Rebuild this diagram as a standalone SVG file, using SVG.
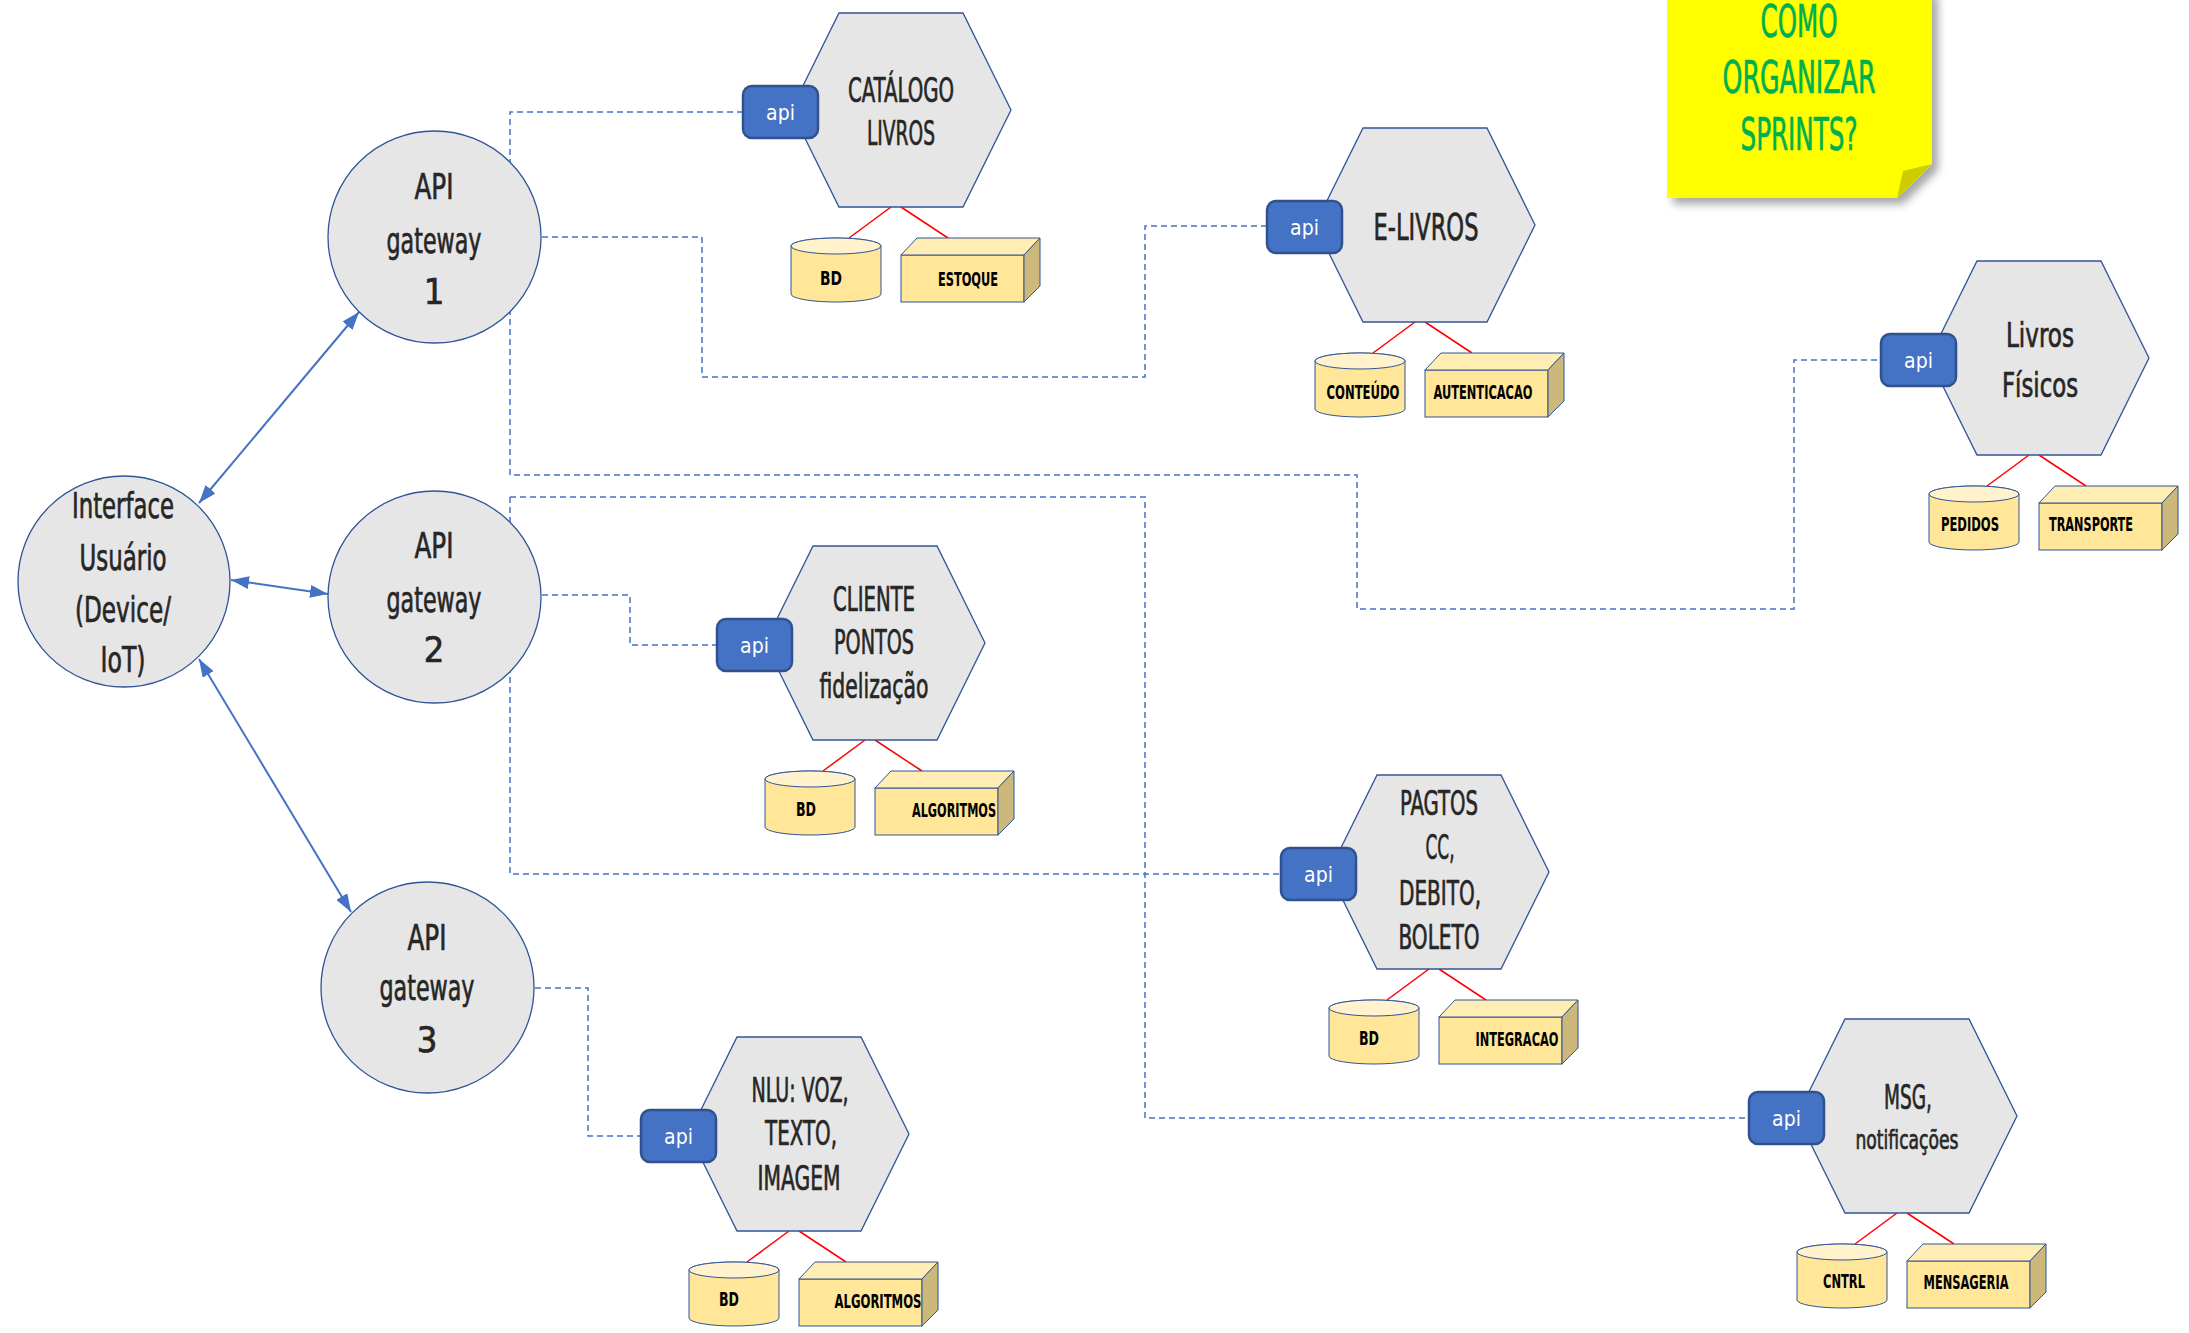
<svg xmlns="http://www.w3.org/2000/svg" xmlns:xlink="http://www.w3.org/1999/xlink" width="2189" height="1333" viewBox="0 0 2189 1333">
<defs>
<style>
.bg{fill:#FFFFFF}
.hex{fill:#E7E6E6;stroke:#2F5597;stroke-width:1.3}
.gw{fill:#E7E6E6;stroke:#2F5597;stroke-width:1.3}
.t{font-family:"Liberation Sans Narrow","DejaVu Sans Condensed","Liberation Sans",sans-serif;fill:#262626;stroke:#262626;stroke-width:0.7;text-anchor:middle}
.tg{font-size:36px}
.th{font-size:34px}
.ts{font-size:27px}
.apir{fill:#4472C4;stroke:#2F528F;stroke-width:2.5}
.apit{font-family:"Liberation Sans Narrow","DejaVu Sans Condensed","Liberation Sans",sans-serif;fill:#FFFFFF;font-size:21px;text-anchor:middle}
.lbl{font-family:"Liberation Sans Narrow","DejaVu Sans Condensed","Liberation Sans",sans-serif;font-weight:bold;font-size:20px;fill:#000000;text-anchor:middle}
.rl{stroke:#FF0000;stroke-width:1.5;fill:none}
.cyl{fill:#FFE699;stroke:#2F5597;stroke-width:1}
.cylt{fill:#FFF2CC;stroke:#2F5597;stroke-width:1}
.cf{fill:#FFE699;stroke:#2F5597;stroke-width:1}
.ctop{fill:#FFEDB3;stroke:#2F5597;stroke-width:1}
.cside{fill:#CCB87A;stroke:#2F5597;stroke-width:1}
.dash{fill:none;stroke:#4472C4;stroke-width:1.5;stroke-dasharray:6 4}
.arr{fill:none;stroke:#4472C4;stroke-width:2;marker-start:url(#ah);marker-end:url(#ah)}
.note{fill:#FFFF00}
.fold{fill:#CCCC00}
.nt{font-family:"Liberation Sans Narrow","DejaVu Sans Condensed","Liberation Sans",sans-serif;fill:#00B050;stroke:#00B050;stroke-width:0.7;font-size:44px;text-anchor:middle}
</style>
<marker id="ah" viewBox="0 0 18 13" refX="18" refY="6.5" markerWidth="18" markerHeight="13" markerUnits="userSpaceOnUse" orient="auto-start-reverse">
<path d="M0,0 L18,6.5 L0,13 z" fill="#4472C4"/>
</marker>
<filter id="sh" x="-10%" y="-10%" width="130%" height="130%">
<feDropShadow dx="6" dy="6" stdDeviation="4" flood-color="#000000" flood-opacity="0.35"/>
</filter>
<polygon id="hexshape" class="hex" points="-110,0 -62,-97 62,-97 110,0 62,97 -62,97"/>
<g id="apibox">
<rect class="apir" x="-158" y="-24" width="75" height="52" rx="9"/>
<text class="apit" x="-120.5" y="10">api</text>
</g>
<g id="storage">
<line class="rl" x1="-10" y1="97" x2="-52" y2="128"/>
<line class="rl" x1="0" y1="97" x2="47" y2="128"/>
<path class="cyl" d="M-110,136 A45,8 0 0 1 -20,136 V184 A45,8 0 0 1 -110,184 Z"/>
<ellipse class="cylt" cx="-65" cy="136" rx="45" ry="8"/>
<rect class="cf" x="0" y="145" width="123" height="47"/>
<polygon class="ctop" points="0,145 16,128 139,128 123,145"/>
<polygon class="cside" points="123,145 139,128 139,176 123,192"/>
</g>
</defs>

<rect class="bg" x="0" y="0" width="2189" height="1333"/>

<g id="connectors">
<path class="dash" d="M743,112 H510 V475 H1357 V609 H1794 V360 H1882"/>
<path class="dash" d="M542,237 H702 V377 H1145 V226 H1267"/>
<path class="dash" d="M510,497 H1145 V1118 H1748"/>
<path class="dash" d="M510,497 V874 H1281"/>
<path class="dash" d="M542,595 H630 V645 H717"/>
<path class="dash" d="M535,988 H588 V1136 H641"/>
<line class="arr" x1="199" y1="503" x2="359" y2="312"/>
<line class="arr" x1="231" y1="580" x2="328" y2="594"/>
<line class="arr" x1="199" y1="659" x2="351" y2="912"/>
</g>

<g id="interface">
<ellipse class="gw" cx="124" cy="581.5" rx="106" ry="105.5"/>
<text class="t tg" x="123" y="518" textLength="102" lengthAdjust="spacingAndGlyphs">Interface</text>
<text class="t tg" x="123" y="570" textLength="87" lengthAdjust="spacingAndGlyphs">Usuário</text>
<text class="t tg" x="123" y="622" textLength="96" lengthAdjust="spacingAndGlyphs">(Device/</text>
<text class="t tg" x="123" y="672" textLength="45" lengthAdjust="spacingAndGlyphs">IoT)</text>
</g>

<g id="gateway1">
<ellipse class="gw" cx="434.5" cy="237" rx="106.5" ry="106"/>
<text class="t tg" x="434" y="199" textLength="39" lengthAdjust="spacingAndGlyphs">API</text>
<text class="t tg" x="434" y="253" textLength="95" lengthAdjust="spacingAndGlyphs">gateway</text>
<text class="t tg" x="434" y="304">1</text>
</g>

<g id="gateway2">
<ellipse class="gw" cx="434.5" cy="597" rx="106.5" ry="106"/>
<text class="t tg" x="434" y="558" textLength="39" lengthAdjust="spacingAndGlyphs">API</text>
<text class="t tg" x="434" y="612" textLength="95" lengthAdjust="spacingAndGlyphs">gateway</text>
<text class="t tg" x="434" y="662">2</text>
</g>

<g id="gateway3">
<ellipse class="gw" cx="427.5" cy="987.5" rx="106.5" ry="105.5"/>
<text class="t tg" x="427" y="950" textLength="39" lengthAdjust="spacingAndGlyphs">API</text>
<text class="t tg" x="427" y="1000" textLength="95" lengthAdjust="spacingAndGlyphs">gateway</text>
<text class="t tg" x="427" y="1052">3</text>
</g>

<g id="catalogo" transform="translate(901,110)">
<use href="#storage"/>
<use href="#hexshape"/>
<use href="#apibox"/>
<text class="t th" x="0" y="-8" textLength="106" lengthAdjust="spacingAndGlyphs">CATÁLOGO</text>
<text class="t th" x="0" y="35" textLength="68" lengthAdjust="spacingAndGlyphs">LIVROS</text>
<text class="lbl" x="-70" y="175" textLength="22" lengthAdjust="spacingAndGlyphs">BD</text>
<text class="lbl" x="67" y="176" textLength="60" lengthAdjust="spacingAndGlyphs">ESTOQUE</text>
</g>

<g id="elivros" transform="translate(1425,225)">
<use href="#storage"/>
<use href="#hexshape"/>
<use href="#apibox"/>
<text class="t" style="font-size:38px" x="1" y="15" textLength="105" lengthAdjust="spacingAndGlyphs">E-LIVROS</text>
<text class="lbl" x="-62" y="174" textLength="73" lengthAdjust="spacingAndGlyphs">CONTEÚDO</text>
<text class="lbl" x="58" y="174" textLength="99" lengthAdjust="spacingAndGlyphs">AUTENTICACAO</text>
</g>

<g id="livrosfisicos" transform="translate(2039,358)">
<use href="#storage"/>
<use href="#hexshape"/>
<use href="#apibox"/>
<text class="t th" x="1" y="-11" textLength="68" lengthAdjust="spacingAndGlyphs">Livros</text>
<text class="t th" x="1" y="39" textLength="76" lengthAdjust="spacingAndGlyphs">Físicos</text>
<text class="lbl" x="-69" y="173" textLength="58" lengthAdjust="spacingAndGlyphs">PEDIDOS</text>
<text class="lbl" x="52" y="173" textLength="84" lengthAdjust="spacingAndGlyphs">TRANSPORTE</text>
</g>

<g id="cliente" transform="translate(875,643)">
<use href="#storage"/>
<use href="#hexshape"/>
<use href="#apibox"/>
<text class="t th" x="-1" y="-32" textLength="82" lengthAdjust="spacingAndGlyphs">CLIENTE</text>
<text class="t th" x="-1" y="11" textLength="80" lengthAdjust="spacingAndGlyphs">PONTOS</text>
<text class="t th" x="-1" y="55" textLength="109" lengthAdjust="spacingAndGlyphs">fidelização</text>
<text class="lbl" x="-69" y="173" textLength="20" lengthAdjust="spacingAndGlyphs">BD</text>
<text class="lbl" x="79" y="174" textLength="84" lengthAdjust="spacingAndGlyphs">ALGORITMOS</text>
</g>

<g id="pagtos" transform="translate(1439,872)">
<use href="#storage"/>
<use href="#hexshape"/>
<use href="#apibox"/>
<text class="t th" x="0" y="-57" textLength="78" lengthAdjust="spacingAndGlyphs">PAGTOS</text>
<text class="t th" x="1" y="-13" textLength="29" lengthAdjust="spacingAndGlyphs">CC,</text>
<text class="t th" x="1" y="33" textLength="82" lengthAdjust="spacingAndGlyphs">DEBITO,</text>
<text class="t th" x="0" y="77" textLength="81" lengthAdjust="spacingAndGlyphs">BOLETO</text>
<text class="lbl" x="-70" y="173" textLength="20" lengthAdjust="spacingAndGlyphs">BD</text>
<text class="lbl" x="78" y="174" textLength="83" lengthAdjust="spacingAndGlyphs">INTEGRACAO</text>
</g>

<g id="nlu" transform="translate(799,1134)">
<use href="#storage"/>
<use href="#hexshape"/>
<use href="#apibox"/>
<text class="t th" x="1" y="-32" textLength="97" lengthAdjust="spacingAndGlyphs">NLU: VOZ,</text>
<text class="t th" x="2" y="11" textLength="72" lengthAdjust="spacingAndGlyphs">TEXTO,</text>
<text class="t th" x="0" y="56" textLength="83" lengthAdjust="spacingAndGlyphs">IMAGEM</text>
<text class="lbl" x="-70" y="172" textLength="20" lengthAdjust="spacingAndGlyphs">BD</text>
<text class="lbl" x="79" y="174" textLength="87" lengthAdjust="spacingAndGlyphs">ALGORITMOS</text>
</g>

<g id="msg" transform="translate(1907,1116)">
<use href="#storage"/>
<use href="#hexshape"/>
<use href="#apibox"/>
<text class="t th" x="1" y="-7" textLength="48" lengthAdjust="spacingAndGlyphs">MSG,</text>
<text class="t ts" x="0" y="33" textLength="103" lengthAdjust="spacingAndGlyphs">notificações</text>
<text class="lbl" x="-63" y="172" textLength="42" lengthAdjust="spacingAndGlyphs">CNTRL</text>
<text class="lbl" x="59" y="173" textLength="85" lengthAdjust="spacingAndGlyphs">MENSAGERIA</text>
</g>

<g id="sticky-note">
<polygon class="note" filter="url(#sh)" points="1667,-10 1932,-10 1932,164 1897,198 1667,198"/>
<polygon class="fold" points="1932,164 1903,171 1897,198"/>
<text class="nt" x="1799" y="37" textLength="77" lengthAdjust="spacingAndGlyphs">COMO</text>
<text class="nt" x="1799" y="93" textLength="153" lengthAdjust="spacingAndGlyphs">ORGANIZAR</text>
<text class="nt" x="1799" y="150" textLength="117" lengthAdjust="spacingAndGlyphs">SPRINTS?</text>
</g>
</svg>
